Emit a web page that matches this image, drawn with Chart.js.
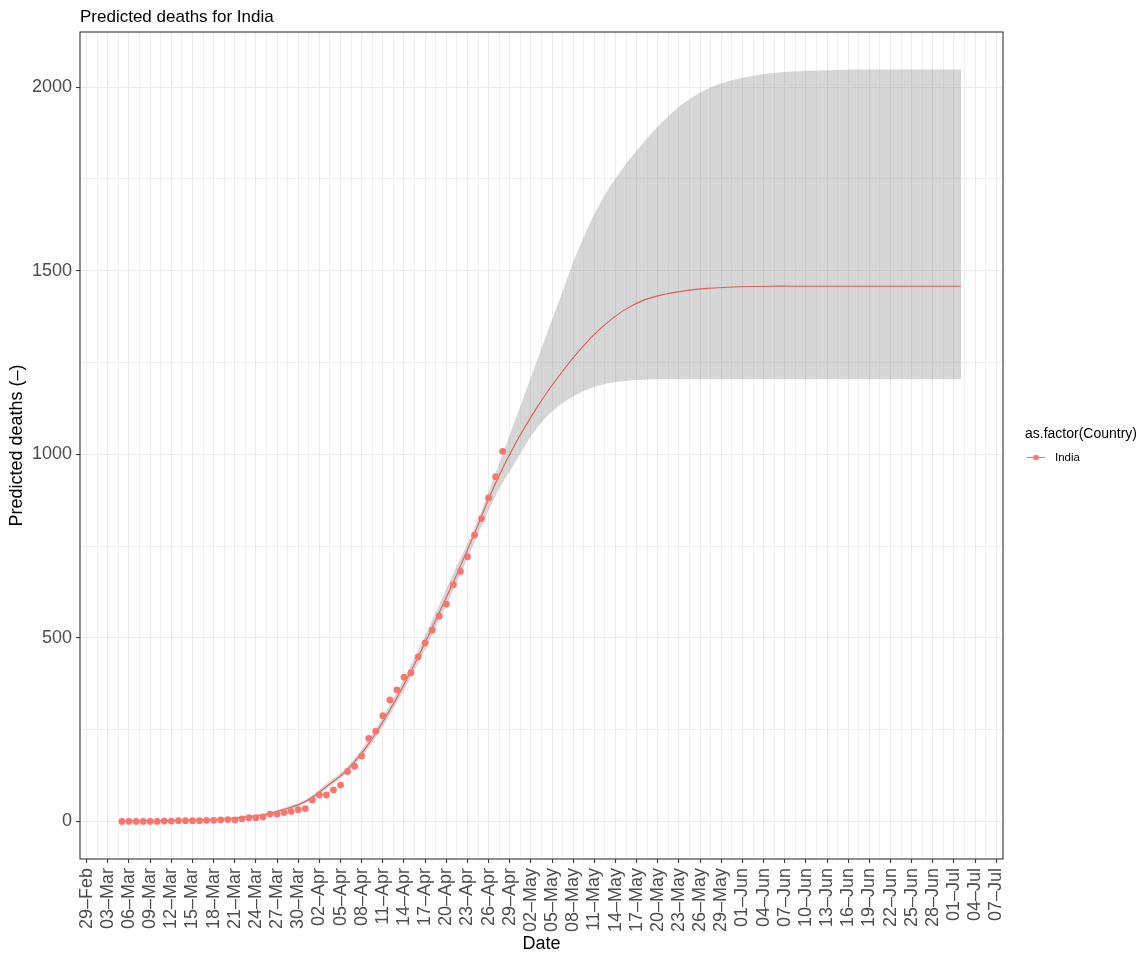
<!DOCTYPE html>
<html>
<head>
<meta charset="utf-8">
<title>Predicted deaths for India</title>
<script src="https://cdn.jsdelivr.net/npm/chart.js@4.4.1/dist/chart.umd.min.js"></script>
<style>
  html, body { margin: 0; padding: 0; background: #ffffff; }
  #wrap { width: 1144px; height: 953px; }
</style>
</head>
<body>
<div id="wrap"><canvas id="chart" width="1144" height="953"></canvas></div>
<script>
// Day numbers count from 29 Feb 2020 (day 0).

// Observed cumulative deaths, one value per day starting at day 5 (05 Mar).
const observedStartDay = 5;
const observedDeaths = [
  0, 0, 0, 0, 0, 0, 1, 1, 2, 2,
  2, 2, 3, 3, 4, 5, 4, 7, 10, 10,
  12, 20, 20, 24, 27, 32, 35, 58, 72, 72,
  86, 99, 136, 150, 178, 226, 246, 288, 331, 358,
  393, 405, 448, 486, 521, 559, 592, 645, 681, 721,
  780, 825, 881, 939, 1008
];

// Fitted curve and its interval band.
const fitDays = [5, 10, 15, 20, 25, 28, 31, 34, 37, 40, 43, 46, 49, 52, 55, 58, 61, 64, 67, 70,
                 73, 76, 79, 82, 85, 88, 91, 94, 97, 100, 106, 112, 118, 124];
const fitMid  = [1, 2, 4, 8, 18, 33, 54, 95, 142, 212, 304, 410, 528, 652, 785, 922, 1036, 1132, 1214, 1286,
                 1345, 1390, 1420, 1436, 1446, 1452, 1455, 1457, 1458, 1458, 1458, 1458, 1458, 1458];
const fitHigh = [1.5, 3, 5.5, 10, 21, 37, 59, 102, 150, 223, 318, 427, 548, 676, 800, 950, 1106, 1262, 1418, 1570,
                 1690, 1778, 1850, 1912, 1961, 1995, 2016, 2029, 2038, 2043, 2047, 2048, 2048, 2048];
const fitLow  = [0.5, 1.5, 3, 6.5, 15, 29, 49, 89, 134, 201, 290, 393, 508, 630, 760, 887, 985, 1075, 1132, 1168,
                 1189, 1199, 1203, 1205, 1205, 1205, 1205, 1205, 1205, 1205, 1205, 1205, 1205, 1205];

// Date axis breaks (every 3 days) and their labels.
const xTickDays = [0, 3, 6, 9, 12, 15, 18, 21, 24, 27, 30, 33, 36, 39, 42, 45, 48, 51, 54, 57, 60,
                   63, 66, 69, 72, 75, 78, 81, 84, 87, 90, 93, 96, 99, 102, 105, 108, 111, 114, 117, 120,
                   123, 126, 129];
const xTickLabels = ['29–Feb', '03–Mar', '06–Mar', '09–Mar', '12–Mar', '15–Mar', '18–Mar', '21–Mar', '24–Mar', '27–Mar', '30–Mar',
                     '02–Apr', '05–Apr', '08–Apr', '11–Apr', '14–Apr', '17–Apr', '20–Apr', '23–Apr', '26–Apr', '29–Apr',
                     '02–May', '05–May', '08–May', '11–May', '14–May', '17–May', '20–May', '23–May', '26–May', '29–May',
                     '01–Jun', '04–Jun', '07–Jun', '10–Jun', '13–Jun', '16–Jun', '19–Jun', '22–Jun', '25–Jun', '28–Jun',
                     '01–Jul', '04–Jul', '07–Jul'];

// Value axis breaks.
const yTickValues = [0, 500, 1000, 1500, 2000];
const yTickLabels = ['0', '500', '1000', '1500', '2000'];

const countryName = 'India';
const legendTitle = 'as.factor(Country)';
const chartTitle = 'Predicted deaths for India';
const xTitle = 'Date';
const yTitle = 'Predicted deaths (–)';

// ---- appearance ----
const FONT = "'Liberation Sans', Arial, Helvetica, sans-serif";
const TICK_INK = '#4D4D4D';
const GRID = '#EBEBEB';
const POINT_COLOR = '#F8766D';
const LINE_COLOR = '#DA5F58';
const BAND_COLOR = 'rgba(153,153,153,0.4)';

// Major breaks plus minor breaks halfway between them.
const xAllTicks = [];
xTickDays.forEach((d, i) => {
  xAllTicks.push(d);
  if (i < xTickDays.length - 1) xAllTicks.push((d + xTickDays[i + 1]) / 2);
});
const yAllTicks = [];
yTickValues.forEach((v, i) => {
  yAllTicks.push(v);
  if (i < yTickValues.length - 1) yAllTicks.push((v + yTickValues[i + 1]) / 2);
});
const isMajorX = v => xTickDays.indexOf(v) >= 0;
const isMajorY = v => yTickValues.indexOf(v) >= 0;

const observedPoints = observedDeaths.map((v, i) => ({ x: observedStartDay + i, y: v }));
const toXY = arr => fitDays.map((d, i) => ({ x: d, y: arr[i] }));

// Panel border, drawn last so it sits above the band.
const panelBorder = {
  id: 'panelBorder',
  afterDraw(chart) {
    const { ctx, chartArea: a } = chart;
    ctx.save();
    ctx.strokeStyle = '#333333';
    ctx.lineWidth = 1.1;
    ctx.strokeRect(a.left, a.top, a.right - a.left, a.bottom - a.top);
    ctx.restore();
  }
};

// Plot title, left-aligned with the panel.
const plotTitle = {
  id: 'plotTitle',
  afterDraw(chart) {
    const { ctx, chartArea: a } = chart;
    ctx.save();
    ctx.fillStyle = '#000000';
    ctx.font = '17px ' + FONT;
    ctx.textAlign = 'left';
    ctx.textBaseline = 'alphabetic';
    ctx.fillText(chartTitle, a.left, 21.5);
    ctx.restore();
  }
};

// Legend to the right of the panel: title, then a line-and-point key.
const sideLegend = {
  id: 'sideLegend',
  afterDraw(chart) {
    const { ctx, chartArea: a } = chart;
    const x0 = a.right + 22;
    const yMid = (a.top + a.bottom) / 2;
    ctx.save();
    ctx.fillStyle = '#000000';
    ctx.font = '14px ' + FONT;
    ctx.textAlign = 'left';
    ctx.textBaseline = 'alphabetic';
    ctx.fillText(legendTitle, x0, yMid - 8);
    const ky = yMid + 12;
    ctx.strokeStyle = POINT_COLOR;
    ctx.lineWidth = 1.1;
    ctx.beginPath();
    ctx.moveTo(x0 + 1.5, ky);
    ctx.lineTo(x0 + 20, ky);
    ctx.stroke();
    ctx.fillStyle = POINT_COLOR;
    ctx.beginPath();
    ctx.arc(x0 + 11, ky, 2.8, 0, Math.PI * 2);
    ctx.fill();
    ctx.fillStyle = '#000000';
    ctx.font = '11.5px ' + FONT;
    ctx.textBaseline = 'middle';
    ctx.fillText(countryName, x0 + 30, ky + 0.5);
    ctx.restore();
  }
};

const curveStyle = { pointRadius: 0, tension: 0.4, cubicInterpolationMode: 'default' };

new Chart(document.getElementById('chart'), {
  type: 'line',
  data: {
    datasets: [
      {
        label: countryName,
        data: observedPoints,
        showLine: false,
        pointRadius: 3.4,
        pointHoverRadius: 3.4,
        pointBackgroundColor: POINT_COLOR,
        pointBorderWidth: 0,
        order: 0
      },
      Object.assign({
        label: 'fit',
        data: toXY(fitMid),
        borderColor: LINE_COLOR,
        borderWidth: 1.1,
        fill: false,
        order: 1
      }, curveStyle),
      Object.assign({
        label: 'upper',
        data: toXY(fitHigh),
        borderWidth: 0,
        borderColor: 'rgba(0,0,0,0)',
        backgroundColor: BAND_COLOR,
        fill: { target: 3 },
        order: 2
      }, curveStyle),
      Object.assign({
        label: 'lower',
        data: toXY(fitLow),
        borderWidth: 0,
        borderColor: 'rgba(0,0,0,0)',
        fill: false,
        order: 3
      }, curveStyle)
    ]
  },
  options: {
    responsive: false,
    animation: false,
    devicePixelRatio: 1,
    layout: { padding: { top: 32, right: 141, bottom: 0, left: 0 } },
    plugins: {
      legend: { display: false },
      tooltip: { enabled: false },
      title: { display: false }
    },
    scales: {
      x: {
        type: 'linear',
        min: -0.95,
        max: 129.95,
        afterBuildTicks: s => { s.ticks = xAllTicks.map(v => ({ value: v })); },
        afterFit: s => { s.height = 94; },
        ticks: {
          autoSkip: false,
          minRotation: 90,
          maxRotation: 90,
          padding: 5,
          color: TICK_INK,
          font: { family: FONT, size: 18 },
          callback: v => { const i = xTickDays.indexOf(v); return i >= 0 ? xTickLabels[i] : ''; }
        },
        grid: {
          color: GRID,
          lineWidth: c => (c.tick && isMajorX(c.tick.value)) ? 1.07 : 0.75,
          tickLength: 4,
          tickWidth: 1.07,
          tickColor: c => (c.tick && isMajorX(c.tick.value)) ? '#333333' : 'rgba(0,0,0,0)'
        },
        border: { display: false },
        title: {
          display: true,
          text: xTitle,
          color: '#000000',
          font: { family: FONT, size: 18, lineHeight: 1 },
          padding: { top: 0, bottom: 0 }
        }
      },
      y: {
        type: 'linear',
        min: -102.4,
        max: 2150.4,
        afterBuildTicks: s => { s.ticks = yAllTicks.map(v => ({ value: v })); },
        afterFit: s => { s.width = 80; },
        ticks: {
          autoSkip: false,
          padding: 4,
          color: TICK_INK,
          font: { family: FONT, size: 18 },
          callback: v => { const i = yTickValues.indexOf(v); return i >= 0 ? yTickLabels[i] : ''; }
        },
        grid: {
          color: GRID,
          lineWidth: c => (c.tick && isMajorY(c.tick.value)) ? 1.07 : 0.75,
          tickLength: 4,
          tickWidth: 1.07,
          tickColor: c => (c.tick && isMajorY(c.tick.value)) ? '#333333' : 'rgba(0,0,0,0)'
        },
        border: { display: false },
        title: {
          display: true,
          text: yTitle,
          color: '#000000',
          font: { family: FONT, size: 18, lineHeight: 1 },
          padding: { top: 8, bottom: 0 }
        }
      }
    }
  },
  plugins: [panelBorder, plotTitle, sideLegend]
});
</script>
</body>
</html>
